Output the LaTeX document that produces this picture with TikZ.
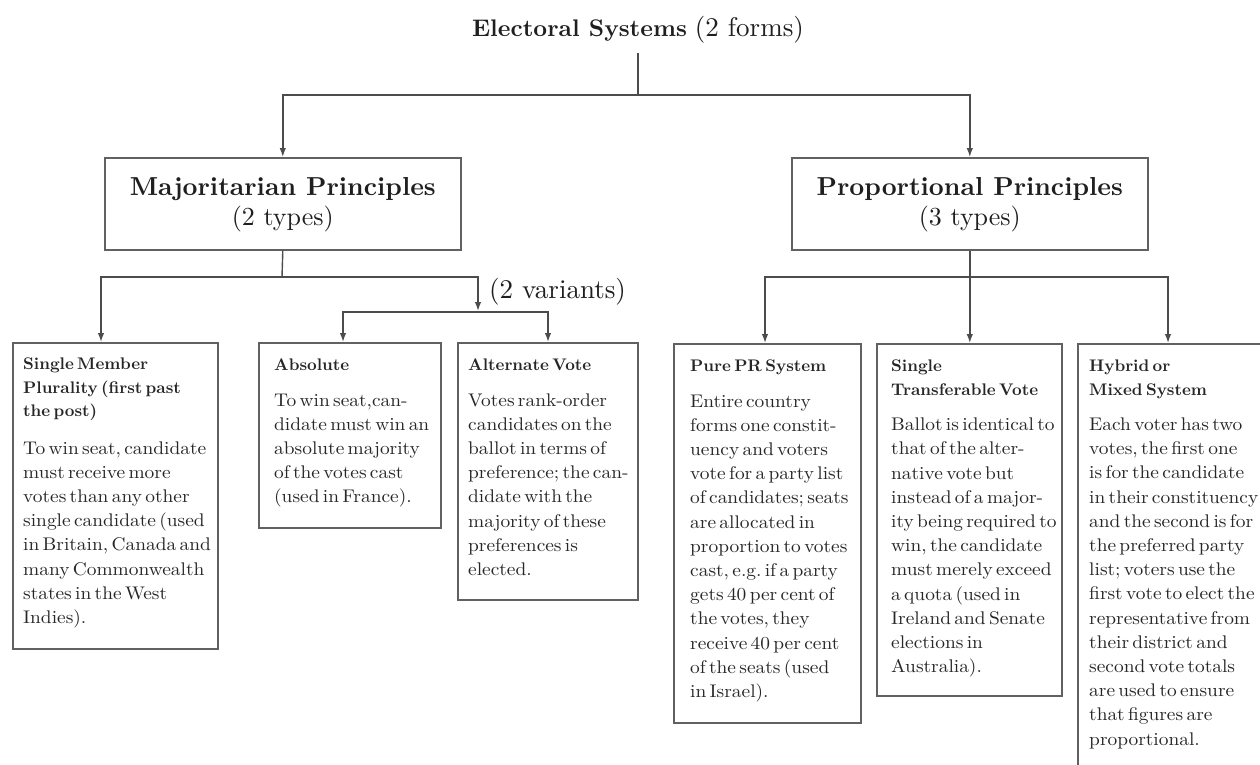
\documentclass[tikz,border=0pt]{standalone}
\usepackage{fontspec}
\setmainfont{lmroman10-regular.otf}[BoldFont=lmroman10-bold.otf,ItalicFont=lmroman10-italic.otf]
\newfontfamily\bodyfam{lmroman10-regular.otf}[FakeStretch=1.06]
\usetikzlibrary{arrows.meta}
\newcommand{\hfnt}{\fontsize{16.8}{23.5}\selectfont\bfseries}
\newcommand{\bfnt}{\bodyfam\fontsize{18.3}{24.2}\selectfont}
\newcommand{\regbig}{\fontsize{26}{30}\selectfont}
\begin{document}
\begin{tikzpicture}[x=1pt,y=-1pt,
  ln/.style={draw=black!70,line width=1.4pt},
  arr/.style={ln,-{Latex[length=9pt,width=6.5pt]}},
  box/.style={draw=black!62,line width=1.6pt,rectangle,inner sep=0pt,anchor=north west},
  bt/.style={anchor=north west,inner sep=0pt,text width=260pt,align=left,text=black!85},
  big/.style={font=\fontsize{26}{30}\selectfont,text=black!88,align=center,inner sep=0pt}]
\useasboundingbox (0,0) rectangle (1260,765);
\clip (0,0) rectangle (1260,765);

% title
\node[font=\fontsize{24}{30}\selectfont,text=black!88,inner sep=0pt] (title) at (638,30) {\textbf{Electoral Systems} {\fontsize{27}{30}\selectfont(2 forms)}};

% level 1 boxes
\node[box,minimum width=356pt,minimum height=92pt] (maj) at (104,157) {};
\node[box,minimum width=356pt,minimum height=92pt] (pro) at (791,157) {};
\node[big] (majt) at ([yshift=-1pt]maj.center) {\textbf{Majoritarian Principles}\\{\regbig(2 types)}};
\node[big] (prot) at ([yshift=-1pt]pro.center) {\textbf{Proportional Principles}\\{\regbig(3 types)}};

% level 2 boxes
\node[box,minimum width=205pt,minimum height=306pt] (smp) at (12,342) {};
\node[box,minimum width=182pt,minimum height=185pt] (abs) at (258,342) {};
\node[box,minimum width=180pt,minimum height=257pt] (alt) at (457,342) {};
\node[box,minimum width=187pt,minimum height=379pt] (pr) at (673,343) {};
\node[box,minimum width=185pt,minimum height=352pt] (stv) at (876,343) {};
\node[box,minimum width=250pt,minimum height=480pt] (hyb) at (1077,343) {};

% texts
\node[bt] (smpt) at ([xshift=11pt,yshift=-16pt]smp.north west) {\hfnt Single Member\\Plurality (first past\\the post)\par\vspace{13pt}\bfnt To win seat, candidate\\must receive more\\votes than any other\\single candidate (used\\in Britain, Canada and\\many Commonwealth\\states in the West\\Indies).\par};
\node[bt] (abst) at ([xshift=16pt,yshift=-17pt]abs.north west) {\hfnt Absolute\par\vspace{11pt}\bfnt To win seat,can-\\didate must win an\\absolute majority\\of the votes cast\\(used in France).\par};
\node[bt] (altt) at ([xshift=11pt,yshift=-17pt]alt.north west) {\hfnt Alternate Vote\par\vspace{11pt}\bfnt Votes rank-order\\candidates on the\\ballot in terms of\\preference; the can-\\didate with the\\majority of these\\preferences is\\elected.\par};
\node[bt] (prtt) at ([xshift=17pt,yshift=-17pt]pr.north west) {\hfnt Pure PR System\par\vspace{11pt}\bfnt Entire country\\forms one constit-\\uency and voters\\vote for a party list\\of candidates; seats\\are allocated in\\proportion to votes\\cast, e.g.\ if a party\\gets 40 per cent of\\the votes, they\\receive 40 per cent\\of the seats (used\\in Israel).\par};
\node[bt] (stvt) at ([xshift=15pt,yshift=-17pt]stv.north west) {\hfnt Single\\Transferable Vote\par\vspace{11pt}\bfnt Ballot is identical to\\that of the alter-\\native vote but\\instead of a major-\\ity being required to\\win, the candidate\\must merely exceed\\a quota (used in\\Ireland and Senate\\elections in\\Australia).\par};
\node[bt] (hybt) at ([xshift=12pt,yshift=-17pt]hyb.north west) {\hfnt Hybrid or\\Mixed System\par\vspace{11pt}\bfnt Each voter has two\\votes, the first one\\is for the candidate\\in their constituency\\and the second is for\\the preferred party\\list; voters use the\\first vote to elect the\\representative from\\their district and\\second vote totals\\are used to ensure\\that figures are\\proportional.\par};

% connectors level 0 -> 1
\coordinate (t0) at (638,53);
\coordinate (t1) at (638,95);
\draw[ln] (t0) -- (t1);
\draw[arr] (t1) -| (maj.north);
\draw[arr] (t1) -| (pro.north);

% majoritarian branch
\coordinate (m1) at (282,277);
\coordinate (smpin) at (101,342);
\coordinate (vj) at (478,311);
\coordinate (vh) at (478,312);
\coordinate (absin) at (343,342);
\coordinate (altin) at (548,342);
\draw[ln] (maj.south) -- (m1);
\draw[arr] (m1) -| (smpin);
\draw[arr] (m1) -| (vj);
\draw[arr] (vh) -| (absin);
\draw[arr] (vh) -| (altin);
\node[font=\fontsize{27}{30}\selectfont,text=black!88,inner sep=0pt,anchor=west] (var) at (489,292) {(2 variants)};

% proportional branch
\coordinate (p1) at (969,277);
\coordinate (prin) at (765,343);
\coordinate (hybin) at (1168,343);
\draw[arr] (pro.south) -- (pro.south |- stv.north);
\draw[arr] (p1) -| (prin);
\draw[arr] (p1) -| (hybin);
\end{tikzpicture}
\end{document}
